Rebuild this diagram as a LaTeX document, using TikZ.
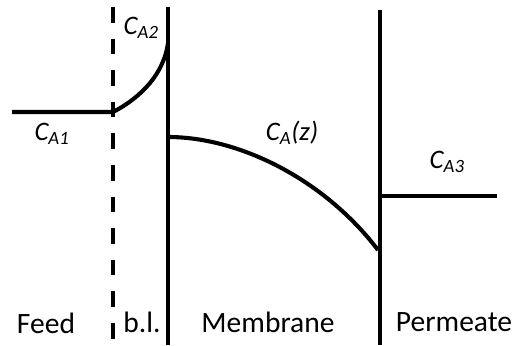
\documentclass[tikz,border=0pt]{standalone}
\usepackage{fontspec}
\setmainfont{Carlito}
\usetikzlibrary{positioning}

\begin{document}
\begin{tikzpicture}[
    wall/.style={line width=2.9pt},
    profile/.style={line width=2.9pt},
    conc/.style={font=\fontsize{19}{22}\selectfont\itshape, inner sep=0pt},
    region/.style={font=\fontsize{21}{24}\selectfont}
  ]
  % Frame
  \useasboundingbox (0,0) rectangle (13.05,8.625);

  % Boundary layer edge (dashed)
  \draw[wall, dash pattern=on 0.39cm off 0.4cm] (2.825,8.45) -- (2.825,0);

  % Membrane walls
  \draw[wall] (4.2,8.45) -- (4.2,0);
  \draw[wall] (9.5,8.375) -- (9.5,0);

  % Concentration profile
  \draw[profile] (0.3,5.825) -- (2.825,5.825)
    .. controls (3.55,6.2) and (4.1,6.8) .. (4.2,7.55);
  \draw[profile] (4.2,5.2)
    .. controls (5.95,5.2) and (8.075,4.175) .. (9.45,2.375);
  \draw[profile] (9.5,3.725) -- (12.425,3.725);

  % Concentration labels
  \node[conc] (ca1) at (1.3,5.28) {C\textsubscript{A1}};
  \node[conc] (ca2) at (3.53,7.93) {C\textsubscript{A2}};
  \node[conc] (caz) at (7.3,5.3) {C\textsubscript{A}(z)};
  \node[conc] (ca3) at (11.18,4.58) {C\textsubscript{A3}};

  % Region labels
  \node[region] (feed) at (1.15,0.55) {Feed};
  \node[region] (bl) at (3.55,0.575) {b.l.};
  \node[region] (memb) at (6.7,0.575) {Membrane};
  \node[region] (perm) at (11.35,0.575) {Permeate};
\end{tikzpicture}
\end{document}
